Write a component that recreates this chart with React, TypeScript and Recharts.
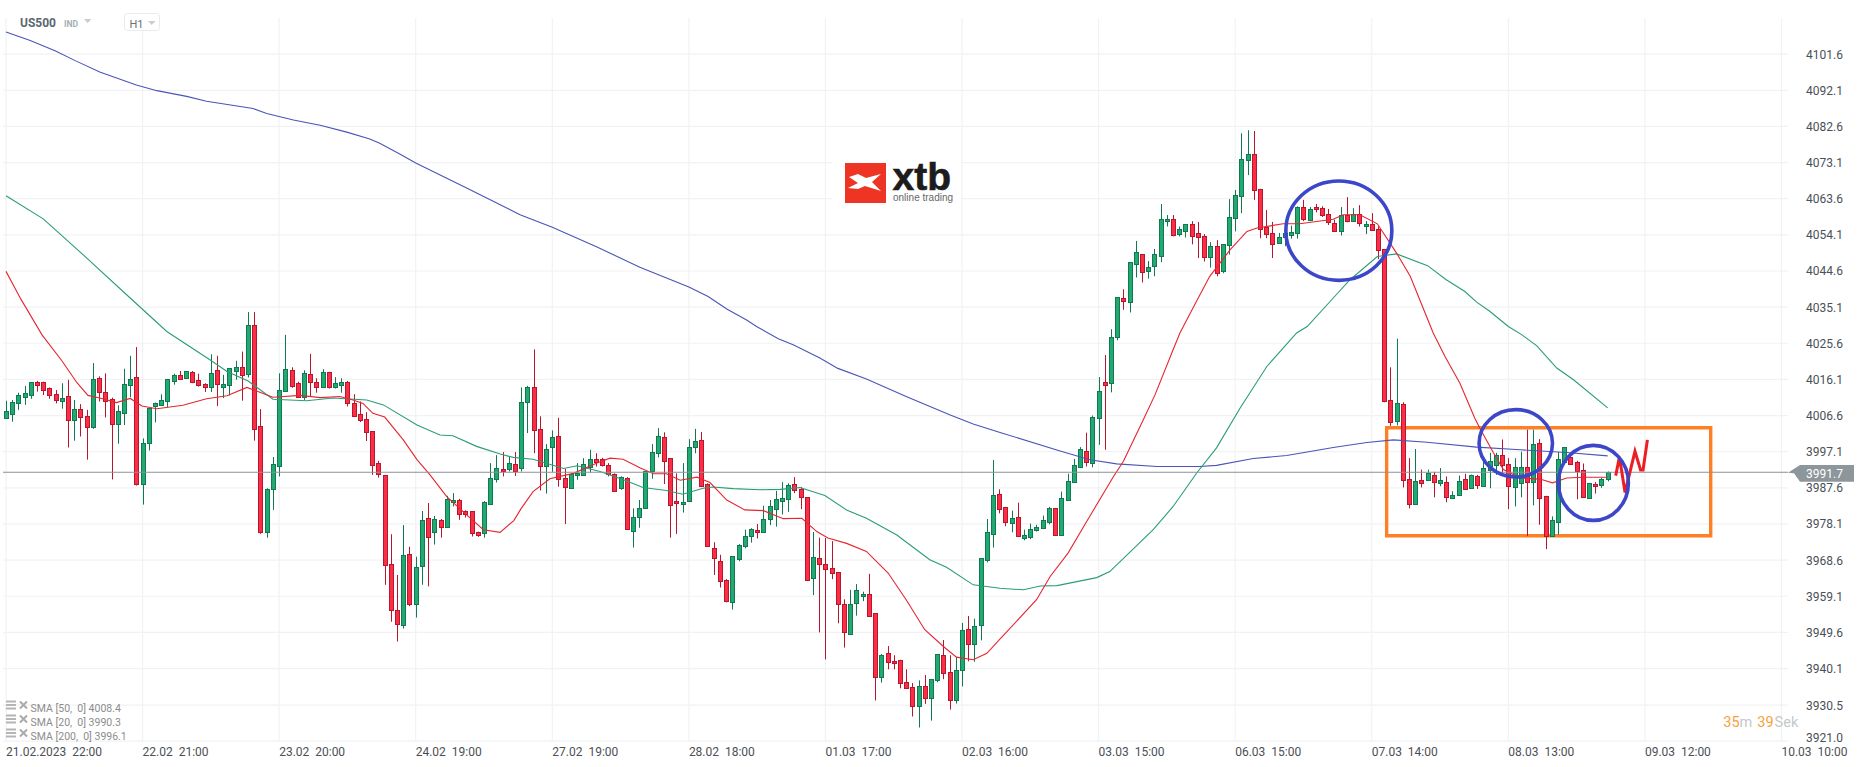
import React from 'react';
import { ComposedChart, Bar, Line, XAxis, YAxis, CartesianGrid, ReferenceLine, ReferenceArea, ReferenceDot } from 'recharts';

// every row: [high, body top, body bottom, low]
const candlesFeb21: number[][] = [
[4010.5,4007.7,4005.9,4005.9],[4010.7,4010.1,4006.9,4005.0],[4012.6,4012,4009.8,4008.1],[4014.4,4012.5,4011.4,4009.4],[4015.4,4015.4,4012.1,4011],
[4015.7,4015.4,4014.7,4012.9],[4015.5,4015.4,4013.4,4012],[4014,4013.8,4011.9,4011],[4013.3,4012.2,4010.8,4009.8],[4015.1,4011.2,4010.3,4008.4],
[4016,4011.7,4005.4,3998.2],[4010.7,4008.3,4005.4,4000],[4009.6,4008.3,4006.1,4001.1],[4008.1,4006.4,4003.7,3995],[4020.4,4016.2,4003.7,4003.1],
[4016.9,4016.4,4012.7,4010.3],[4017.7,4012.7,4010.4,4006.1],[4011.3,4010.9,4004.5,3989.8],[4009.3,4007.7,4004.5,3999.2],[4018.9,4014.8,4007.4,4004.1],
[4022.3,4016.2,4014.5,4011.4],[4024.6,4016.7,3988.7,3988.2],[4000.6,3999.3,3988.6,3983.2],[4008.5,4008.5,3999.5,3997.4],[4010,4009.8,4009,4004.8],
[4012.2,4010.6,4009.4,4009.1],[4016.2,4016.2,4010.3,4008.8],[4017.6,4017.2,4015.8,4014.7],[4018.3,4017.2,4016.3,4016],[4018.3,4018.3,4016.6,4016.3],
[4018.3,4018,4015.5,4015.1],[4017.6,4015.9,4014.5,4014.2],[4015.1,4014.8,4014,4012.8],[4022.7,4017.7,4014,4012.8],[4022.3,4018.5,4015,4009.1],
[4017.3,4014.8,4014.2,4011.2],[4019,4019,4014.5,4011.9],[4021,4019.3,4018.4,4016],[4023.4,4019.3,4017.2,4010.5],[4033.8,4030.3,4017.5,4016.6],
];
const candlesFeb23: number[][] = [
[4033.8,4030.3,4003,4000],[4008.3,4003.8,3976.1,3975.5],[3987.5,3987.2,3975.9,3974.5],[3995.7,3993.8,3987.2,3981.8],[4017.7,4013.3,3993.3,3990.6],
[4027.8,4018.8,4013,4012.8],[4019.3,4018.5,4014.4,4013.9],[4015.5,4015.1,4011.4,4011.2],[4018.5,4017.7,4011.4,4010.7],[4022.8,4017.5,4015.4,4011.6],
[4016.4,4015.4,4014.2,4012.6],[4018.8,4018,4014.2,4014],[4018.1,4018,4014.2,4013.7],[4016.7,4015.1,4014.2,4013.7],[4016.4,4015.4,4014.5,4012.6],
[4015.7,4015.4,4009.8,4009],[4012.2,4009.8,4006.6,4006.6],[4010.3,4007,4005.4,4004.9],[4007.5,4005.6,4002.4,3999.9],[4002.5,4002.5,3993.5,3991],
[3994.7,3994.1,3991.2,3990.3],[3991,3990.9,3967.2,3962.1],[3975.4,3967.5,3955.4,3952.4],[3964.7,3955.4,3951.8,3947.2],[3977.8,3969.9,3951.5,3950.6],
[3972.1,3970.2,3957,3956.5],[3969.5,3966.7,3957,3953.5],[3981.5,3979.1,3967,3962.1],[3983.6,3979.6,3974.8,3961.7],[3980.2,3979.4,3976.1,3972.7],
[3979.4,3979.1,3977.2,3974.5],[3985.5,3984.6,3977.4,3977.3],[3986.2,3984.4,3983.8,3982.7],[3984.7,3984.4,3980.7,3979.2],[3981.7,3981.5,3980.8,3979.8],
[3981.5,3981.5,3975.7,3974.8],[3976.1,3975.9,3975.2,3974.7],[3984.1,3983.8,3975.7,3974.5],[3994.1,3990.1,3983.3,3983.2],[3996.2,3992.8,3989.8,3989],
];
const candlesFeb27: number[][] = [
[3997,3992.6,3992,3990.6],[3995.7,3994.1,3992.6,3991.9],[3997,3993.8,3992.1,3990.7],[4014,4010.1,3992.8,3991.9],[4014.4,4014,4010.1,4002],
[4024,4014,4002.7,3996.7],[4006.4,4003,3993.3,3986.9],[3999.1,3997.8,3993.3,3986.1],[4002.7,4000.9,3998.3,3991.8],[4006,4001.2,3989.9,3987.9],
[3992.6,3990.1,3987.8,3978.1],[3991.4,3991.3,3987.5,3987.3],[3994.1,3991.4,3990.9,3989.7],[3995.4,3993.8,3990.9,3990.8],[3997.6,3995.1,3993,3991.6],
[3996.7,3995.1,3994.5,3993.2],[3995.5,3995.3,3993.5,3993.2],[3994.1,3993.6,3991.2,3990.6],[3991.4,3991.3,3986.7,3986.6],[3990.6,3990.4,3987.5,3987.1],
[3990.4,3990.3,3976.7,3976.6],[3982.2,3979.9,3976.2,3971.9],[3984.4,3982.2,3979.9,3977.1],[3992,3992,3982.2,3982.1],[3999.1,3997,3992,3990],
[4003.3,4001.2,3996.7,3995.6],[4002.2,4000.9,3994.6,3988.6],[3995.4,3995.4,3983,3974.5],[3991.4,3984.1,3983.6,3975.5],[3994.1,3983.8,3983.3,3981.1],
[4000.4,3998.3,3984.1,3984],[4003.1,3999.9,3998.3,3996.7],[4002.3,4000.1,3988,3987.8],[3988.8,3988.6,3972.3,3972.2],[3973.3,3971.7,3969.1,3964.7],
[3970,3968.3,3963.1,3961.4],[3963.6,3963.3,3957.8,3957.5],[3969.6,3969.6,3957.5,3955.6],[3972.8,3972.5,3968.8,3968.3],[3976.6,3974.9,3972.3,3971.7],
];
const candlesMar01: number[][] = [
[3977,3976.7,3974.9,3973.2],[3978.1,3976.5,3975.9,3974.3],[3982.9,3979.4,3975.9,3975.9],[3984.4,3982.8,3979.4,3977.8],[3986.8,3984.6,3982,3977.4],
[3989.1,3984.9,3984.1,3980.6],[3988.8,3988.3,3984.6,3981.3],[3990.4,3988.6,3987,3986.2],[3987.8,3987.2,3985.1,3982],[3985.1,3985.1,3963.3,3963.2],
[3976,3969.4,3963.9,3959.4],[3974.5,3969.1,3967.5,3949.6],[3974.4,3967.5,3966.2,3942.5],[3973.6,3966.5,3965.2,3963.6],[3965.4,3965.4,3957,3952],
[3958.3,3957,3949.7,3945.6],[3960.8,3957,3949.1,3948.9],[3962.3,3960.7,3957.3,3954],[3960.3,3959.6,3959.1,3957.8],[3965,3959.8,3953.9,3953.8],
[3954.7,3954.7,3937.8,3931.7],[3943.9,3943.6,3937.8,3936.4],[3946,3944.1,3941.8,3939.9],[3943.6,3942,3941.5,3939.9],[3942.4,3942.3,3936.3,3934.9],
[3939.9,3936.5,3934.9,3934.7],[3936.3,3935.2,3930.2,3927.5],[3937,3935.5,3930.2,3924.6],[3938.4,3935.5,3932.3,3930.8],[3937.3,3937.3,3932.3,3926.4],
[3943.9,3943.9,3937,3936.5],[3947.6,3943.6,3938.9,3937.3],[3943.6,3939.2,3931.8,3929.3],[3943.1,3939.7,3931.8,3930.9],[3952.1,3950.2,3939.7,3935.4],
[3953.9,3950.5,3946.5,3942],[3953.2,3951.2,3946.5,3941.9],[3969.1,3969.1,3951.5,3947.5],[3979.4,3975.9,3968.6,3968],[3994.9,3985.7,3975.4,3971.9],
];
const candlesMar02: number[][] = [
[3987.2,3985.9,3982.1,3980.9],[3982.6,3982.6,3978.5,3977.5],[3981.6,3979.7,3978.3,3975.9],[3983.7,3979.9,3974.9,3974.7],[3976.6,3975.2,3974.3,3973.8],
[3978.2,3976.8,3974.8,3974.1],[3977.9,3977.3,3976.5,3976.1],[3980.3,3979.1,3977,3976.9],[3982.6,3982.3,3978.5,3978],[3982.3,3982.3,3975.2,3975.1],
[3986.6,3984.9,3975.2,3975.1],[3991.3,3989.4,3984.4,3984.3],[3995.2,3993.6,3989.1,3989],[3998.3,3997.8,3993.2,3993.1],[4002.1,3997.3,3994.3,3993.2],
[4006.6,4006.3,3994.1,3993],[4016.7,4013,4005.9,3998.9],[4022.5,4015.4,4014.6,3997.6],[4029.3,4027.2,4015.1,4012.7],[4037.7,4037.7,4027.2,4026.4],
[4039.8,4037.5,4036.7,4034.4],[4046.9,4046.9,4036.4,4033.7],[4052.5,4049.6,4046.4,4042.9],[4049,4049,4044.3,4041.6],[4047.2,4045.6,4044.7,4042.6],
[4050.4,4049,4045.9,4043.2],[4062.2,4058.2,4048.5,4046.9],[4059.3,4058.2,4057.7,4056.3],[4059.3,4058.2,4054,4053.7],[4056.3,4055.6,4054.3,4053.7],
[4056.9,4056.9,4055.1,4053.4],[4057.7,4056.9,4053.8,4051.6],[4057.5,4054.6,4053.5,4048],[4054.3,4053.8,4048.3,4047.1],[4052.2,4051.1,4048.3,4045.5],
[4052.7,4051.1,4044,4043.2],[4051.7,4051.7,4044.6,4044],[4063.5,4058.8,4051.4,4048.9],[4065.9,4064.5,4058.5,4055],[4080.8,4074,4064.3,4059.8],
];
const candlesMar06: number[][] = [
[4081.6,4075.3,4073.7,4069.8],[4081.4,4075.3,4065.9,4063.3],[4066.2,4066.1,4055.6,4053.2],[4060.6,4056.1,4054.3,4053.2],[4057.5,4054.6,4051.7,4048],
[4054.6,4053.5,4051.9,4051.7],[4056.3,4054.6,4053.5,4051.1],[4056.5,4054.8,4054,4053.1],[4061.6,4061.4,4054.6,4053.1],[4063.3,4061.4,4058.2,4057.7],
[4061.4,4060.9,4058,4057.7],[4062.2,4061.4,4060.9,4060],[4061.6,4061.1,4059.3,4058.8],[4060.9,4059.6,4057.5,4056.7],[4058.1,4057.2,4055.1,4055],
[4061.4,4059.3,4055.1,4053.9],[4064,4059.3,4057.7,4057.4],[4061.1,4059.6,4057.7,4057.6],[4061.9,4059.6,4057.2,4056.3],[4057.7,4056.9,4056.4,4054.3],
[4059.8,4056.9,4055.3,4055.3],[4056.3,4055.6,4050.1,4047.7],[4050.4,4050.4,4010.4,4010.1],[4019.3,4010.7,4004.9,4003.9],[4026.8,4009.9,4005.2,4004],
[4010.1,4009.6,3989.6,3987.7],[3995.4,3989.9,3983.3,3982.2],[3997.8,3989.4,3983.3,3983.3],[3992.4,3989.6,3988.9,3987.7],[3992.4,3991.5,3989.6,3989.4],
];
const candlesMar07: number[][] = [
[3991.8,3991,3989.1,3985.1],[3992.8,3989.6,3988.9,3988],[3990.6,3989.1,3985.2,3983.8],[3986.7,3985.7,3984.8,3984.8],[3990.8,3989.4,3985.7,3985.6],
[3991.3,3989.9,3987.4,3987.1],[3991.1,3991,3987.5,3987.4],[3991,3990.7,3988.3,3987.3],[3994.8,3992.8,3988.1,3988],[3996.8,3994.6,3992.3,3987.5],
[3996.8,3996.2,3993.6,3991],[4000.3,3996.2,3993.6,3991.5],[3995.4,3993.9,3988.1,3982],[3995.4,3993,3987.8,3982.7],[3997.1,3993.1,3989,3985.1],
[4002.9,3993.1,3989.1,3974.9],[4002.9,3999.1,3989.1,3983],[4000.4,3999.4,3984.9,3977.9],[3985.5,3985.5,3974.9,3971.5],[3980.1,3979.1,3974.9,3974.7],
[3997,3995.2,3978.6,3975.3],[3998.3,3998.3,3994.3,3994],[3996.3,3995.7,3993.9,3993.7],[3994.7,3994.4,3991.9,3984.6],[3994,3992.3,3985.2,3985.1],
[3988.9,3988.8,3984.9,3984.8],[3989.1,3988.6,3988.1,3986.1],[3990.2,3989.9,3988.3,3987.6],[3991.9,3991.8,3989.9,3989.3],
];
// G = close above open, R = close below open
const directions =
  'GGGGGRRRRG' + 'RGRRGRRRGG' + 'GRGGGGGGRG' + 'RRRGRGGGRG' + 'RRGGGGRRGR' +
  'RGRGGRRRRR' + 'RRRRGRGGRG' + 'RGGRRRRGGG' + 'RGRGGRRGGR' + 'RGGGGRRRRG' +
  'RGGGGGRRRG' + 'GGRRRRRGGG' + 'GRGGGGGRRR' + 'GRRRRRGGGR' + 'RGRRRRRGRG' +
  'GRRGGRGGGG' + 'RRGRGGGGGR' + 'GGGGRGGRGG' + 'RGGRGGGGRG' + 'GRRRGRGGGG' +
  'GRRRRGGGGR' + 'GRRRRGRGRG' + 'RRRRGRRGRG' + 'RGRGGRGRGG' + 'GRRGGRGRRG' +
  'GGRRRGRGG';

const sma200: number[][] = [[0,4107.4],[3.9,4105.2],[7.9,4102.5],[11.4,4099.7],[15.1,4096.9],[21,4093.5],[24.3,4092],[29.1,4090.5],[32.3,4089.2],[39.8,4087.3],[42,4086],[46.3,4084.3],[50.6,4082.9],[54.9,4081.1],[58.6,4079.3],[60.2,4078.2],[63.5,4075.3],[66,4073],[74.2,4066.4],[82.8,4059.4],[88,4056.1],[95.2,4050.9],[102.1,4045.6],[110,4040.4],[113.1,4037.9],[116.1,4034.6],[119.3,4031.7],[120.9,4030],[124.4,4026.8],[126.8,4025.2],[131.1,4021.7],[134,4019],[138.6,4016.2],[145,4011.6],[152,4006.8],[155.8,4004.4],[160,4002.2],[169.8,3997.3],[174.6,3995],[178.9,3993.9],[185.4,3993.2],[192.3,3993.2],[195,3993.5],[200.9,3995.3],[206.3,3996.1],[213.8,3998.2],[219.2,3999.5],[223.5,4000.2],[228.9,3999.6],[236.9,3998.3],[243.9,3997.6],[251.4,3996.9],[258,3996]];
const sma50: number[][] = [[0,4064.4],[6,4058.3],[12.4,4048.9],[20,4037.5],[25.9,4028.7],[32.9,4021.2],[35.6,4018.2],[39,4015.7],[43,4010.9],[48.4,4010.5],[52.7,4011.2],[58.1,4010.7],[60.8,4009.4],[66.2,4004.1],[69.9,4001.5],[72,4001.3],[75.8,3998.5],[79.6,3996.5],[81.7,3995.6],[84.9,3995.1],[89.8,3992.7],[92,3993.4],[95.7,3991.9],[100,3989.4],[102.6,3987.7],[106.4,3986.9],[109,3985.9],[112.3,3987.5],[113.9,3987.8],[117.1,3987.4],[121.5,3987.1],[124.7,3987.2],[127.9,3987.7],[131.9,3985.6],[135.4,3981.8],[138.6,3979.6],[143.5,3975.2],[148.8,3968.7],[151.5,3966.7],[155.8,3962.1],[160.1,3961.2],[163.9,3960.8],[166.6,3961.8],[169.3,3961.9],[175.7,3964],[177.8,3965.6],[184.8,3976.6],[188,3982.7],[191.8,3991.5],[195,3998.1],[198.8,4008.6],[203.1,4019.5],[207.9,4028.3],[209.6,4030],[213.8,4037.5],[216.5,4042.3],[220.9,4048.4],[224,4049.1],[229,4046],[232,4042.3],[235,4039.2],[236.9,4036.4],[239,4034],[242,4030],[244.2,4027.8],[246.6,4024.9],[249.8,4019.1],[252.5,4016],[258,4008.6]];
const sma20: number[][] = [[0,4044.5],[2.4,4037.2],[5.8,4027.8],[9,4021],[11.4,4015.3],[13.2,4011.9],[15.1,4011.2],[17.8,4010],[20,4011.1],[21.9,4009.1],[24.3,4008.4],[28.5,4009.3],[32.3,4011],[35.6,4011.8],[38.8,4014],[40.9,4012.7],[43,4011.4],[47.4,4011.9],[50.6,4011.3],[53.8,4011.6],[55.9,4010.7],[57.5,4009.8],[59.1,4007.2],[61,4006.2],[64,4000.2],[66.2,3995],[68.3,3991],[71,3985.3],[74.2,3980.5],[76.9,3976.6],[79.6,3975.9],[81.8,3979],[83,3982.2],[84.9,3986.6],[87.6,3990],[91.4,3991.4],[95.2,3994.1],[97.3,3995.4],[99.4,3995.1],[102.1,3992.9],[104.3,3991.3],[106.4,3991.3],[108.6,3989.6],[111.3,3990.4],[113.4,3989],[116.1,3984.4],[119,3981.8],[122,3981.6],[125.2,3979.5],[128.2,3979.6],[130.6,3976.1],[132.4,3974.4],[135.4,3973],[138.6,3970.9],[142.1,3965.2],[145,3958.2],[148,3950.3],[151,3945.9],[153.1,3943.1],[155.8,3942.4],[158,3944.1],[160.1,3947.8],[166,3958.2],[168.2,3964.3],[171.1,3970.5],[174.1,3978.8],[178.4,3990.6],[180,3994.6],[183.2,4005.5],[185.1,4012.1],[188,4023.9],[189.1,4028.3],[191.2,4034.9],[193.9,4043.2],[197.2,4050.2],[199.9,4055],[201.5,4055.9],[205.7,4057],[208.4,4057],[213.8,4058.2],[215.4,4059.4],[218.1,4059.4],[220.9,4057],[224,4049.3],[226.2,4043.2],[229.9,4028.3],[231.8,4022.1],[234.2,4015.1],[236.6,4005.9],[237.4,4003.3],[239.6,3996.8],[241.2,3992.4],[243.9,3990.2],[247.1,3989.9],[249.1,3988.9],[251.4,3990.2],[254,3990.4],[258,3990.4]];
const scribble: number[][] = [[259.3,3990.8],[259.9,3995.7],[260.8,3986.4],[262.4,3997.2],[263.3,3992.3],[263.7,3992.3],[264.4,4000.2]];

const yTicks = [4101.6,4092.1,4082.6,4073.1,4063.6,4054.1,4044.6,4035.1,4025.6,4016.1,4006.6,3997.1,3987.6,3978.1,3968.6,3959.1,3949.6,3940.1,3930.5,3921.0];
const xTickLabels = ['21.02.2023','22.02','23.02','24.02','27.02','28.02','01.03','02.03','03.03','06.03','07.03','08.03','09.03','10.03'];
const xTickTimes = ['22:00','21:00','20:00','19:00','19:00','18:00','17:00','16:00','15:00','15:00','14:00','13:00','12:00','10:00'];
const barsPerLabel = 22;
const lastPrice = 3991.7;
const legendRows = ['SMA [50,  0] 4008.4', 'SMA [20,  0] 3990.3', 'SMA [200,  0] 3996.1'];

const rows = [...candlesFeb21, ...candlesFeb23, ...candlesFeb27, ...candlesMar01, ...candlesMar02, ...candlesMar06, ...candlesMar07].map((r, i) => ({
  i, high: r[0], top: r[1], bottom: r[2], low: r[3], up: directions[i] === 'G',
}));
const toPts = (a: number[][]) => a.map(([i, v]) => ({ i, v }));

const FONT = 'Roboto, sans-serif';
const TEXT = '#4b5056';

function Candle(props: any) {
  const { x, y, width, height, payload: d } = props;
  if (d == null || height == null) return null;
  const h = Math.abs(height);
  const t = Math.min(y, y + height);
  const k = d.high > d.low ? h / (d.high - d.low) : 0;
  const yT = Math.round(t + (d.high - d.top) * k) + 0.5;
  const yB = Math.round(t + (d.high - d.bottom) * k) + 0.5;
  const cx = Math.round(x + width / 2) + 0.5;
  const fill = d.up ? '#22a971' : '#fb2e45';
  const edge = d.up ? '#0f7a52' : '#b9152f';
  return (
    <g>
      <line x1={cx} x2={cx} y1={t} y2={t + h} stroke={edge} strokeWidth={1} />
      <rect x={cx - 2} y={yT} width={4} height={Math.max(yB - yT, 1)} fill={fill} stroke={edge} strokeWidth={1} />
    </g>
  );
}

function XTick(props: any) {
  const { x, y, payload } = props;
  const n = Math.round(payload.value / barsPerLabel);
  return (
    <text x={x} y={y + 13} fontFamily={FONT} fontSize={12} fill={TEXT} textAnchor="start" style={{ whiteSpace: 'pre' }}>
      {`${xTickLabels[n]}  ${xTickTimes[n]}`}
    </text>
  );
}

function YTick(props: any) {
  const { x, y, payload } = props;
  const nudge = payload.value === 3921 ? -3.5 : 0;
  return (
    <text x={x + 18} y={y + 4.5 + nudge} fontFamily={FONT} fontSize={12} fill={TEXT} textAnchor="start">
      {payload.value.toFixed(1)}
    </text>
  );
}

const ring = (rx: number, ry: number) => (p: any) => (
  <ellipse cx={p.cx} cy={p.cy} rx={rx} ry={ry} fill="none" stroke="#3c46c9" strokeWidth={3.6} />
);

export default function App() {
  const xTicks = xTickLabels.map((_, k) => k * barsPerLabel);
  return (
    <div style={{ position: 'absolute', left: 0, top: 0, width: 1866, height: 767, background: '#fff', overflow: 'hidden' }}>
      <ComposedChart width={1866} height={767} data={rows} margin={{ top: 18, right: 0, bottom: 0, left: 3 }}>
        <CartesianGrid stroke="#f1f2f3" strokeWidth={1.2} syncWithTicks />
        <XAxis dataKey="i" type="number" domain={[-0.483, 287.05]} ticks={xTicks} interval={0} height={25.8}
          axisLine={false} tickLine={false} tickSize={0} tick={<XTick />} allowDataOverflow />
        <YAxis type="number" orientation="right" domain={[3921, 4111.1]} ticks={yTicks} interval={0} width={78}
          axisLine={false} tickLine={false} tickSize={0} tickMargin={0} tick={<YTick />} allowDataOverflow />
        <Bar dataKey={(d: any) => [d.low, d.high]} barSize={5} shape={<Candle />} isAnimationActive={false} />
        <Line data={toPts(sma200)} dataKey="v" stroke="#4a55b8" strokeWidth={1.1} dot={false} type="linear" isAnimationActive={false} />
        <Line data={toPts(sma50)} dataKey="v" stroke="#2a9d76" strokeWidth={1.1} dot={false} type="linear" isAnimationActive={false} />
        <Line data={toPts(sma20)} dataKey="v" stroke="#e5262f" strokeWidth={1.1} dot={false} type="linear" isAnimationActive={false} />
        <ReferenceLine y={lastPrice} stroke="#8c9296" strokeWidth={1.2} />
        <ReferenceArea x1={222.4} x2={274.6} y1={3975} y2={4003.4} fill="none" stroke="#ff7f27" strokeWidth={3.4} ifOverflow="visible" />
        <ReferenceDot x={214.7} y={4055.2} ifOverflow="visible" shape={ring(53, 49.7)} />
        <ReferenceDot x={243.2} y={3999.3} ifOverflow="visible" shape={ring(36.7, 33.7)} />
        <ReferenceDot x={255.7} y={3988.9} ifOverflow="visible" shape={ring(35, 37.5)} />
        <Line data={toPts(scribble)} dataKey="v" stroke="#ee1c25" strokeWidth={3} dot={false} type="linear" isAnimationActive={false} />
      </ComposedChart>

      <svg width={1866} height={767} style={{ position: 'absolute', left: 0, top: 0, pointerEvents: 'none' }}>
        {/* header */}
        <text x={20} y={27} fontFamily={FONT} fontSize={12} fontWeight={700} fill="#5a6670">US500</text>
        <text x={64} y={26.5} fontFamily={FONT} fontSize={8.5} fontWeight={700} fill="#a3afb6">IND</text>
        <polygon points="84,19 91.5,19 87.7,23" fill="#c9cdd1" />
        <rect x={124.5} y={13.5} width={35} height={17} rx={3} fill="#fff" stroke="#e8eaec" />
        <text x={129.5} y={27.5} fontFamily={FONT} fontSize={11} fill="#6a7278">H1</text>
        <polygon points="148,21 155.5,21 151.7,25" fill="#c9cdd1" />
        {/* logo */}
        <rect x={832} y={158} width={129} height={52} fill="#fff" />
        <rect x={845} y={163} width={41} height={40} fill="#ee3524" />
        <polygon points="849,177 858,174 866,178 881,174 872,182 881,191 865,186 858,189 848,188 858,183" fill="#fff" />
        <text x={892.5} y={189.5} fontFamily="'Liberation Sans', sans-serif" fontSize={39} fontWeight={700} fill="#1c1c1c" stroke="#1c1c1c" strokeWidth={0.6}>xtb</text>
        <text x={893} y={201} fontFamily="'Liberation Sans', sans-serif" fontSize={10} fill="#666">online trading</text>
        {/* legend */}
        {legendRows.map((t, k) => {
          const yy = 707.5 + k * 14;
          return (
            <g key={t}>
              <rect x={6} y={yy - 7} width={10} height={2} fill="#b5b5b5" />
              <rect x={6} y={yy - 3.5} width={10} height={2} fill="#b5b5b5" />
              <rect x={6} y={yy} width={10} height={2} fill="#b5b5b5" />
              <path d={`M20 ${yy - 6} L27 ${yy + 1} M27 ${yy - 6} L20 ${yy + 1}`} stroke="#aaa" strokeWidth={2} />
              <text x={30.5} y={yy + 4} fontFamily={FONT} fontSize={10.5} fill="#8c8c8c" style={{ whiteSpace: 'pre' }}>{t}</text>
            </g>
          );
        })}
        {/* last price tag */}
        <polygon points="1788,472.8 1800,465 1854,465 1854,481.7 1800,481.7 1794,473.3" fill="#8c969b" />
        <text x={1806} y={478} fontFamily={FONT} fontSize={12} fill="#fff">3991.7</text>
        {/* countdown */}
        <text x={1723.3} y={727} fontFamily={FONT} fontSize={14.5} fill="#f7a13a">35<tspan fill="#c4c8cc">m</tspan></text>
        <text x={1757.3} y={727} fontFamily={FONT} fontSize={14.5} fill="#f7a13a">39<tspan fill="#c4c8cc" dx={1}>Sek</tspan></text>
      </svg>
    </div>
  );
}
